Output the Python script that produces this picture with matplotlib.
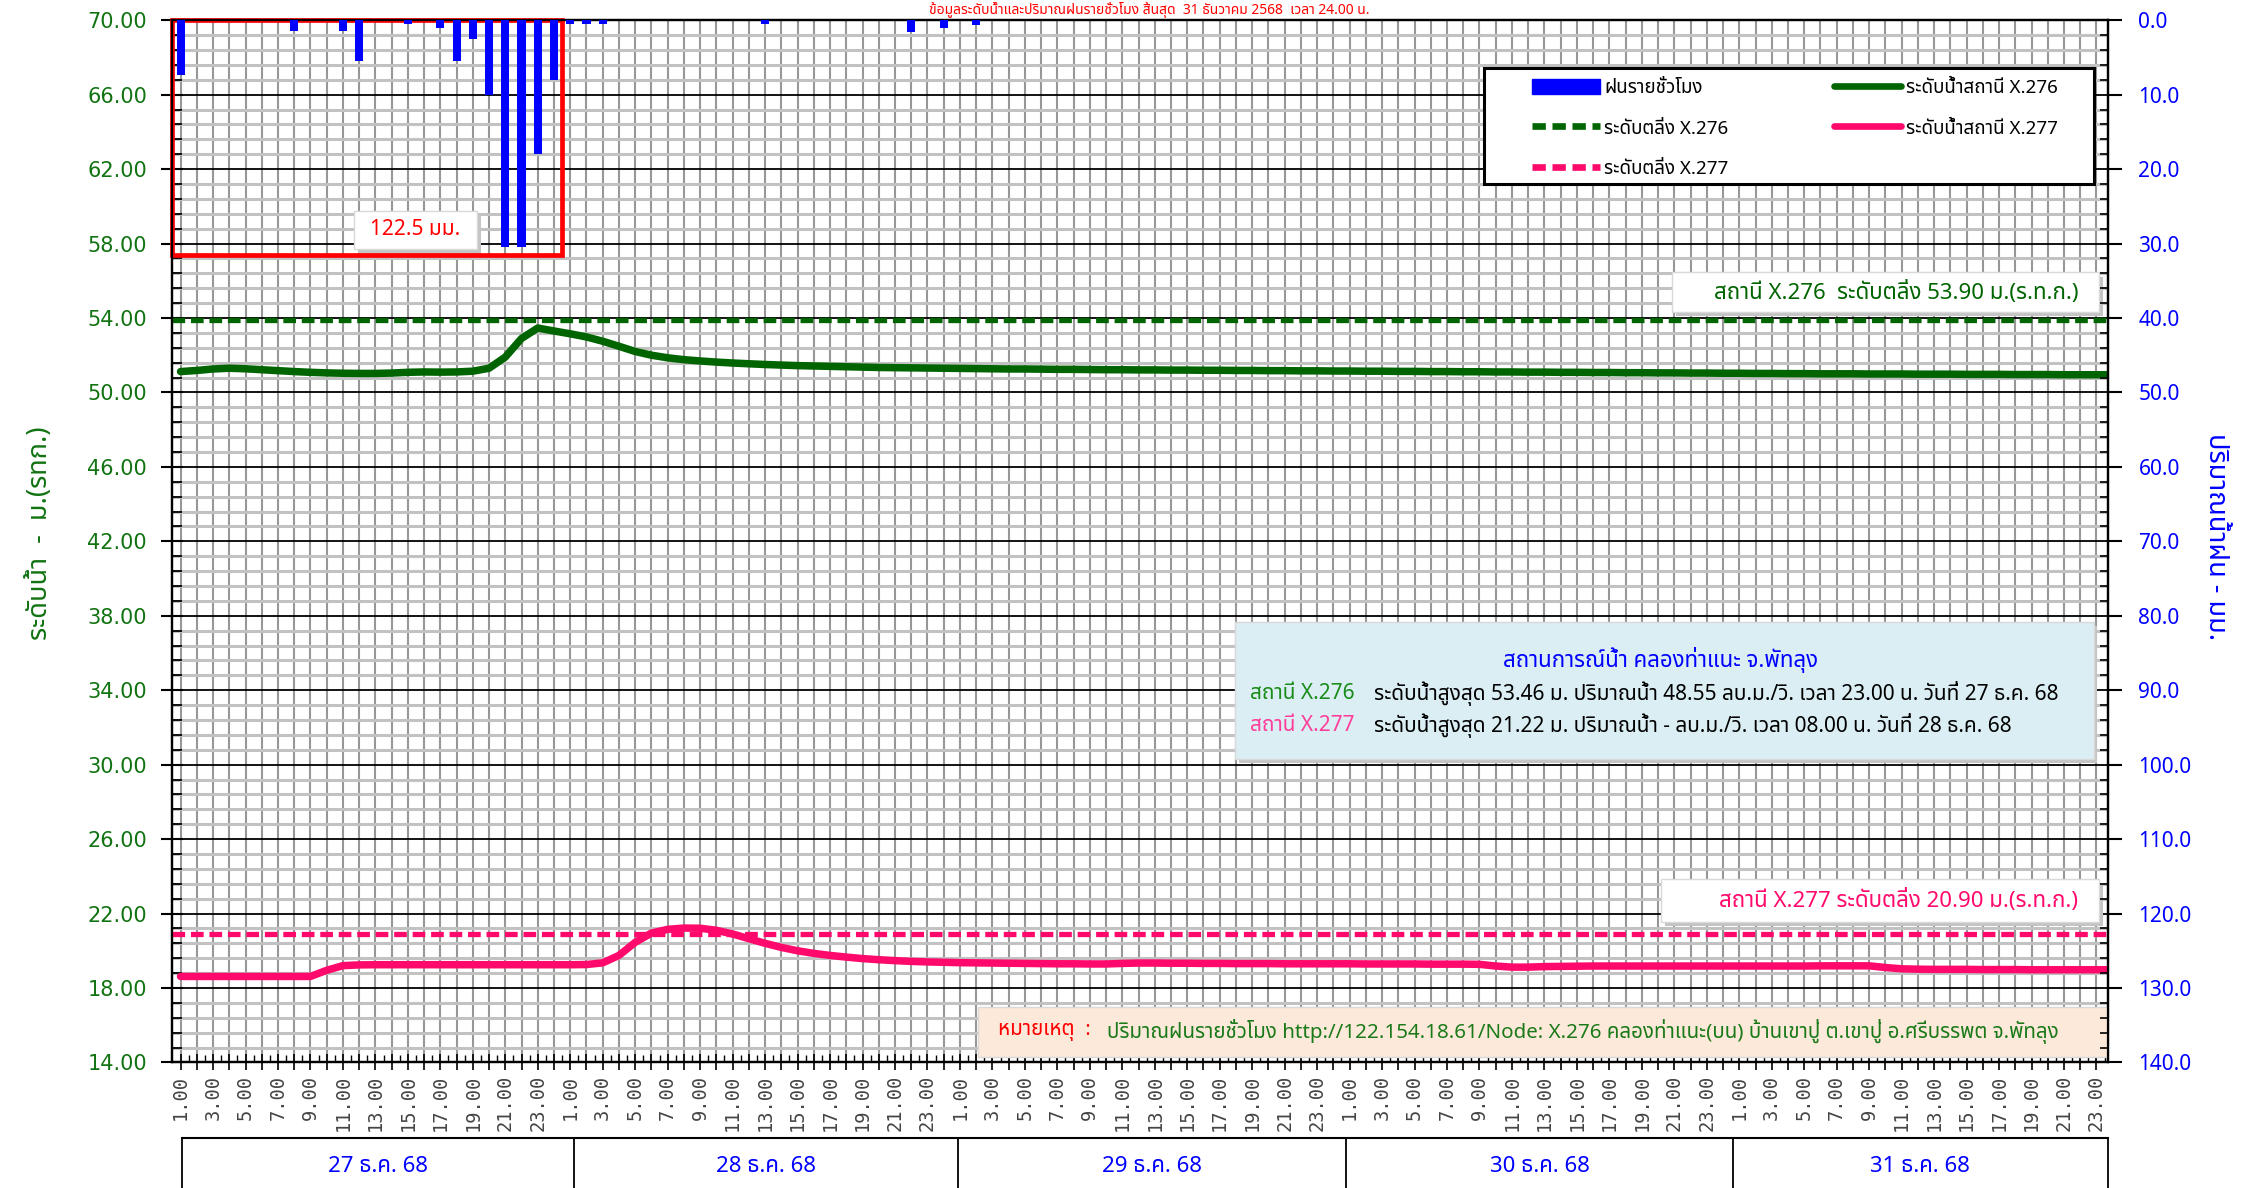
import numpy as np
import matplotlib
matplotlib.use('Agg')
import matplotlib.pyplot as plt
from matplotlib import font_manager
from matplotlib.ft2font import FT2Font
from matplotlib.patches import Rectangle, Patch
from matplotlib.lines import Line2D

# ---- data ----
days = ['27 ธ.ค. 68', '28 ธ.ค. 68', '29 ธ.ค. 68', '30 ธ.ค. 68', '31 ธ.ค. 68']
day_edges = [0.1, 24.25, 47.9, 71.8, 95.6, 118.7]

lvl276_27 = [51.12, 51.18, 51.26, 51.30, 51.27, 51.22, 51.17, 51.12, 51.08, 51.05, 51.03, 51.02,
             51.02, 51.04, 51.08, 51.10, 51.09, 51.10, 51.14, 51.30, 51.90, 52.90, 53.46, 53.30]
lvl276_28 = [53.15, 52.98, 52.75, 52.48, 52.20, 52.00, 51.86, 51.76, 51.69, 51.63, 51.58, 51.54,
             51.50, 51.47, 51.44, 51.42, 51.40, 51.38, 51.36, 51.34, 51.33, 51.32, 51.31, 51.30]
lvl276_29 = [51.29, 51.28, 51.27, 51.26, 51.26, 51.25, 51.24, 51.24, 51.23, 51.22, 51.22, 51.21,
             51.21, 51.20, 51.20, 51.19, 51.19, 51.18, 51.18, 51.17, 51.17, 51.16, 51.16, 51.15]
lvl276_30 = [51.15, 51.14, 51.14, 51.13, 51.13, 51.12, 51.12, 51.11, 51.11, 51.10, 51.10, 51.09,
             51.09, 51.08, 51.08, 51.07, 51.07, 51.06, 51.06, 51.05, 51.05, 51.04, 51.04, 51.03]
lvl276_31 = [51.03, 51.02, 51.02, 51.01, 51.01, 51.00, 51.00, 51.00, 50.99, 50.99, 50.99, 50.98,
             50.98, 50.98, 50.97, 50.97, 50.97, 50.96, 50.96, 50.96, 50.95, 50.95, 50.95, 50.95]

lvl277_27 = [18.62, 18.62, 18.62, 18.62, 18.62, 18.62, 18.62, 18.62, 18.62, 18.95, 19.20, 19.24,
             19.25, 19.25, 19.25, 19.25, 19.25, 19.25, 19.25, 19.25, 19.25, 19.25, 19.25, 19.25]
lvl277_28 = [19.25, 19.26, 19.35, 19.75, 20.45, 20.95, 21.15, 21.22, 21.21, 21.10, 20.90, 20.65,
             20.40, 20.18, 20.00, 19.86, 19.75, 19.66, 19.58, 19.52, 19.47, 19.43, 19.40, 19.38]
lvl277_29 = [19.36, 19.35, 19.34, 19.33, 19.32, 19.31, 19.30, 19.30, 19.29, 19.29, 19.32, 19.34,
             19.34, 19.33, 19.33, 19.32, 19.32, 19.31, 19.31, 19.31, 19.30, 19.30, 19.30, 19.30]
lvl277_30 = [19.30, 19.29, 19.29, 19.29, 19.29, 19.28, 19.28, 19.28, 19.27, 19.18, 19.12, 19.12,
             19.15, 19.16, 19.17, 19.18, 19.18, 19.18, 19.18, 19.18, 19.18, 19.18, 19.18, 19.18]
lvl277_31 = [19.18, 19.18, 19.18, 19.18, 19.18, 19.19, 19.19, 19.19, 19.19, 19.10, 19.03, 19.01,
             19.00, 19.00, 19.00, 18.99, 18.99, 18.99, 18.98, 18.98, 18.98, 18.98, 18.98, 18.98]

# hourly rain (hour index from 27 ธ.ค. 1.00), mm
rain_idx = [0, 7, 10, 11, 14, 16, 17, 18, 19, 20, 21, 22, 23, 24, 25, 26, 36, 45, 47, 49]
rain_mm = [7.4, 1.5, 1.5, 5.5, 0.5, 1.0, 5.5, 2.5, 10.0, 30.5, 30.5, 18.0, 8.1, 0.5, 0.5, 0.5,
           0.5, 1.6, 1.1, 0.6]

bank276 = 53.90
bank277 = 20.90

lvl276 = lvl276_27 + lvl276_28 + lvl276_29 + lvl276_30 + lvl276_31
lvl277 = lvl277_27 + lvl277_28 + lvl277_29 + lvl277_30 + lvl277_31
hours = np.arange(len(lvl276))


# ---- fonts: need something with Thai glyphs ----
def find_thai():
    pref = ['Tahoma', 'Noto Sans Thai', 'Noto Sans Thai UI', 'Sarabun', 'Loma', 'Garuda',
            'Umpush', 'Waree', 'Laksaman', 'Kinnari', 'Norasi']
    found = []
    for f in font_manager.fontManager.ttflist:
        try:
            if 0x0E19 in FT2Font(f.fname).get_charmap():
                found.append(f.name)
        except Exception:
            pass
    for p in pref:
        if p in found:
            return p
    return found[0] if found else 'DejaVu Sans'


TH = find_thai()
names = {f.name for f in font_manager.fontManager.ttflist}
NARROW = 'Liberation Sans Narrow' if 'Liberation Sans Narrow' in names else TH
plt.rcParams['font.family'] = [TH, 'DejaVu Sans']

GREEN = '#006400'
GTXT = '#127312'
PINK = '#ff0a6c'
BLUE = '#0000ff'

fig = plt.figure(figsize=(22.45, 11.88), dpi=100)
ax = fig.add_axes([0.0766, 0.1057, 0.8623, 0.8773])
ax.set_xlim(-0.53, 118.7)
ax.set_ylim(14, 70)

# grid
ax.set_axisbelow(True)
ax.set_xticks(hours[:119])
ax.set_xticks(hours[:119] + 0.5, minor=True)
ax.set_xticklabels([f'{i % 24 + 1}.00' if i % 2 == 0 else '' for i in hours[:119]],
                   rotation=90, family='DejaVu Sans Mono', fontsize=13.5, color='#444444')
ax.set_yticks(np.arange(14, 70.1, 4))
ax.set_yticks(np.arange(14, 70.1, 0.8), minor=True)
ax.set_yticklabels([f'{v:.2f}' for v in np.arange(14, 70.1, 4)], fontsize=15, color=GTXT,
                   family='DejaVu Sans')
ax.grid(which='major', axis='x', color='#979797', lw=1.5)
ax.grid(which='minor', axis='y', color='#c2c2c2', lw=2.2)
ax.grid(which='major', axis='y', color='black', lw=1.3)
ax.tick_params(axis='y', which='major', direction='inout', length=16, width=1.5, pad=10)
ax.tick_params(axis='y', which='minor', direction='in', length=7, width=1.3)
ax.tick_params(axis='x', which='major', direction='inout', length=12, width=1.2, pad=3)
ax.tick_params(axis='x', which='minor', direction='in', length=5, width=1)
for s in ax.spines.values():
    s.set_linewidth(1.6)

# water levels
ax.plot(hours, lvl276, color=GREEN, lw=5.4, solid_capstyle='round', zorder=3)
ax.plot(hours, lvl277, color=PINK, lw=5.4, solid_capstyle='round', zorder=3)
ax.axhline(bank276, color=GREEN, lw=3.8, dashes=(2.4, 1.1), zorder=3)
ax.axhline(bank277, color=PINK, lw=3.8, dashes=(2.4, 1.1), zorder=3)

# rain on right axis
ax2 = ax.twinx()
ax2.set_ylim(140, 0)
ax2.bar(rain_idx, rain_mm, width=0.5, color=BLUE, zorder=3)
ax2.set_yticks(np.arange(0, 141, 10))
ax2.set_yticks(np.arange(0, 141, 2), minor=True)
ax2.set_yticklabels([f'{v:.1f}' for v in np.arange(0, 141, 10)], fontsize=15, color=BLUE,
                    family=NARROW)
ax2.tick_params(axis='y', which='major', direction='out', length=10, width=1.5, pad=12)
ax2.tick_params(axis='y', which='minor', direction='in', length=6, width=1.2)
for s in ax2.spines.values():
    s.set_linewidth(1.6)

# red box around the rain of 27 ธ.ค.
ax.add_patch(Rectangle((-0.5, 57.38), 24.0, 12.62, fill=False, ec='red', lw=3.4,
                       zorder=6, clip_on=False))


def panel(x0, y0, x1, y1, fc, ec='#d9d9d9', shadow=True):
    if shadow:
        ax.add_patch(Rectangle((x0 + 0.002, y0 - 0.004), x1 - x0, y1 - y0,
                               transform=ax.transAxes, fc='#c4c4c4', ec='none', zorder=4))
    ax.add_patch(Rectangle((x0, y0), x1 - x0, y1 - y0, transform=ax.transAxes, fc=fc,
                           ec=ec, lw=1, zorder=5))


T = dict(transform=ax.transAxes, zorder=6, va='center')

panel(0.094, 0.780, 0.1575, 0.817, 'white')
ax.text(0.1257, 0.7995, '122.5 มม.', ha='center', color='red', fontsize=15, **T)

panel(0.775, 0.720, 0.9956, 0.758, 'white')
ax.text(0.8905, 0.739, 'สถานี X.276  ระดับตลิ่ง 53.90 ม.(ร.ท.ก.)', ha='center', color=GREEN,
        fontsize=16, **T)

panel(0.769, 0.135, 0.9956, 0.176, 'white')
ax.text(0.892, 0.155, 'สถานี X.277 ระดับตลิ่ง 20.90 ม.(ร.ท.ก.)', ha='center', color=PINK,
        fontsize=16, **T)

panel(0.549, 0.291, 0.9926, 0.423, '#daeef3')
ax.text(0.769, 0.386, 'สถานการณ์น้ำ คลองท่าแนะ จ.พัทลุง', ha='center', color=BLUE, fontsize=16, **T)
ax.text(0.557, 0.354, 'สถานี X.276', ha='left', color='#1a8c1a', fontsize=15, **T)
ax.text(0.621, 0.354, 'ระดับน้ำสูงสุด 53.46 ม. ปริมาณน้ำ 48.55 ลบ.ม./วิ. เวลา 23.00 น. วันที่ 27 ธ.ค. 68',
        ha='left', color='black', fontsize=15, **T)
ax.text(0.557, 0.323, 'สถานี X.277', ha='left', color='#ff3d9a', fontsize=15, **T)
ax.text(0.621, 0.323, 'ระดับน้ำสูงสุด 21.22 ม. ปริมาณน้ำ - ลบ.ม./วิ. เวลา 08.00 น. วันที่ 28 ธ.ค. 68',
        ha='left', color='black', fontsize=15, **T)

panel(0.4164, 0.0055, 1.0, 0.0536, '#fde9d9', shadow=False)
ax.text(0.4268, 0.030, 'หมายเหตุ  :', ha='left', color='red', fontsize=14.8, **T)
ax.text(0.483, 0.030, 'ปริมาณฝนรายชั่วโมง http://122.154.18.61/Node: X.276 คลองท่าแนะ(บน) '
        'บ้านเขาปู่ ต.เขาปู่ อ.ศรีบรรพต จ.พัทลุง', ha='left', color='#1a7a1a', fontsize=14.8, **T)

# legend with its own frame
ax2.add_patch(Rectangle((0.678, 0.843), 0.315, 0.111, transform=ax2.transAxes, fc='white',
                        ec='black', lw=2.2, zorder=4.5))
handles = [Patch(fc=BLUE, ec=BLUE),
           Line2D([], [], color=GREEN, lw=4.8, dashes=(2.0, 1.0)),
           Line2D([], [], color=PINK, lw=4.8, dashes=(2.0, 1.0)),
           Line2D([], [], color=GREEN, lw=4.8, solid_capstyle='round'),
           Line2D([], [], color=PINK, lw=4.8, solid_capstyle='round')]
labels = ['ฝนรายชั่วโมง', 'ระดับตลิ่ง X.276', 'ระดับตลิ่ง X.277',
          'ระดับน้ำสถานี X.276', 'ระดับน้ำสถานี X.277']
leg = ax2.legend(handles, labels, ncol=2, loc='upper left', bbox_to_anchor=(0.7027, 0.944),
                 frameon=False, fontsize=13.5, handlelength=3.6, handleheight=0.9,
                 handletextpad=0.25, columnspacing=5.6, labelspacing=1.2, borderpad=0,
                 borderaxespad=0)
leg.set_zorder(6)

# axis titles and title at the top edge
fig.text(0.0178, 0.551, 'ระดับน้ำ  -  ม.(รทก.)', rotation=90, ha='center', va='center',
         color=GTXT, fontsize=19.5)
fig.text(0.987, 0.548, 'ปริมาณน้ำฝน - มม.', rotation=270, ha='center', va='center',
         color=BLUE, fontsize=19.5)
fig.text(0.512, 0.9912, 'ข้อมูลระดับน้ำและปริมาณฝนรายชั่วโมง สิ้นสุด  31 ธันวาคม 2568  เวลา 24.00 น.',
         ha='center', va='center', color='red', fontsize=10, weight='bold')

# date boxes under the time axis
axd = fig.add_axes([0.0766, 0.0, 0.8623, 0.0421])
axd.set_xlim(ax.get_xlim())
axd.set_ylim(0, 1)
axd.axis('off')
axd.plot([day_edges[0], day_edges[-1]], [1, 1], color='black', lw=1.5, clip_on=False)
axd.vlines(day_edges, 0, 1, color='black', lw=1.3, clip_on=False)
for k, d in enumerate(days):
    axd.text((day_edges[k] + day_edges[k + 1]) / 2, 0.42, d, ha='center', va='center',
             color=BLUE, fontsize=16, family=[NARROW, TH])

plt.savefig('out.png', dpi=100)
